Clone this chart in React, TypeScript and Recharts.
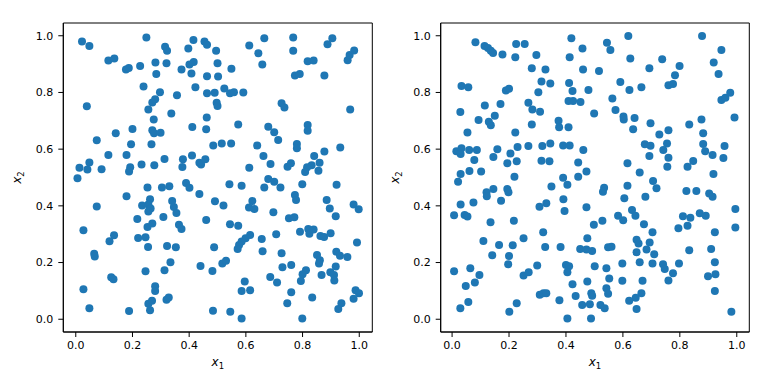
import { ScatterChart, Scatter, XAxis, YAxis, ReferenceArea } from 'recharts';

// x1, x2 samples, left panel
const leftPoints: [number, number][] = [
  [0.022, 0.980], [0.048, 0.964], [0.249, 0.994], [0.315, 0.961], [0.322, 0.947], [0.397, 0.955], [0.415, 0.985], [0.454, 0.980], [0.463, 0.968], [0.495, 0.947],
  [0.115, 0.913], [0.136, 0.920], [0.177, 0.881], [0.187, 0.886], [0.227, 0.893], [0.281, 0.906], [0.320, 0.903], [0.284, 0.865], [0.373, 0.881], [0.401, 0.899],
  [0.416, 0.907], [0.408, 0.867], [0.463, 0.857], [0.500, 0.903], [0.502, 0.856], [0.239, 0.821], [0.297, 0.801], [0.357, 0.790], [0.422, 0.818], [0.463, 0.797],
  [0.490, 0.799], [0.497, 0.764], [0.500, 0.752], [0.039, 0.751], [0.280, 0.776], [0.270, 0.765], [0.256, 0.740], [0.337, 0.726], [0.462, 0.712], [0.275, 0.705],
  [0.200, 0.671], [0.141, 0.656], [0.270, 0.667], [0.276, 0.656], [0.299, 0.658], [0.411, 0.678], [0.460, 0.670], [0.074, 0.631], [0.195, 0.617], [0.267, 0.617],
  [0.485, 0.613], [0.115, 0.579], [0.179, 0.579], [0.048, 0.553], [0.013, 0.534], [0.041, 0.528], [0.091, 0.529], [0.192, 0.536], [0.188, 0.521], [0.232, 0.546],
  [0.277, 0.543], [0.313, 0.565], [0.378, 0.564], [0.376, 0.537], [0.410, 0.578], [0.436, 0.552], [0.442, 0.546], [0.457, 0.564],
  [0.549, 0.884], [0.612, 0.966], [0.665, 0.991], [0.644, 0.938], [0.658, 0.899], [0.767, 0.994], [0.767, 0.947], [0.888, 0.970], [0.905, 0.991], [0.959, 0.914],
  [0.966, 0.932], [0.982, 0.948], [0.818, 0.910], [0.839, 0.913], [0.773, 0.860], [0.790, 0.865], [0.877, 0.860], [0.524, 0.814], [0.544, 0.797], [0.558, 0.801],
  [0.591, 0.800], [0.726, 0.762], [0.736, 0.747], [0.968, 0.740], [0.573, 0.687], [0.679, 0.679], [0.700, 0.660], [0.714, 0.632], [0.818, 0.685], [0.818, 0.665],
  [0.780, 0.618], [0.780, 0.603], [0.640, 0.613], [0.933, 0.606], [0.877, 0.592], [0.515, 0.620], [0.548, 0.620], [0.662, 0.576], [0.687, 0.548], [0.612, 0.534],
  [0.747, 0.538], [0.759, 0.550], [0.841, 0.576], [0.860, 0.552], [0.832, 0.543], [0.816, 0.536], [0.809, 0.519], [0.856, 0.524],
  [0.006, 0.497], [0.253, 0.465], [0.304, 0.465], [0.330, 0.469], [0.389, 0.481], [0.401, 0.464], [0.436, 0.442], [0.491, 0.416], [0.179, 0.434], [0.074, 0.398],
  [0.234, 0.401], [0.262, 0.423], [0.256, 0.405], [0.264, 0.391], [0.256, 0.380], [0.340, 0.417], [0.346, 0.396], [0.355, 0.375], [0.309, 0.361], [0.217, 0.354],
  [0.460, 0.350], [0.027, 0.314], [0.253, 0.325], [0.270, 0.338], [0.364, 0.333], [0.373, 0.318], [0.135, 0.296], [0.119, 0.275], [0.220, 0.287], [0.246, 0.289],
  [0.065, 0.231], [0.067, 0.221], [0.255, 0.255], [0.322, 0.258], [0.353, 0.254], [0.488, 0.254], [0.334, 0.201], [0.313, 0.173], [0.246, 0.169], [0.440, 0.188],
  [0.482, 0.170], [0.125, 0.148], [0.133, 0.141], [0.280, 0.116], [0.280, 0.100], [0.027, 0.106], [0.320, 0.069], [0.328, 0.077], [0.256, 0.055], [0.269, 0.065],
  [0.262, 0.032], [0.048, 0.039], [0.188, 0.029], [0.484, 0.030],
  [0.542, 0.476], [0.585, 0.471], [0.665, 0.465], [0.679, 0.495], [0.700, 0.485], [0.722, 0.465], [0.799, 0.476], [0.920, 0.474], [0.521, 0.401], [0.623, 0.417],
  [0.611, 0.394], [0.630, 0.389], [0.697, 0.377], [0.773, 0.438], [0.777, 0.421], [0.752, 0.356], [0.771, 0.360], [0.885, 0.421], [0.896, 0.391], [0.917, 0.363],
  [0.980, 0.405], [0.998, 0.388], [0.544, 0.335], [0.573, 0.330], [0.791, 0.309], [0.820, 0.318], [0.824, 0.302], [0.839, 0.317], [0.863, 0.294], [0.876, 0.290],
  [0.899, 0.303], [0.707, 0.300], [0.656, 0.283], [0.615, 0.297], [0.599, 0.286], [0.585, 0.274], [0.576, 0.262], [0.571, 0.248], [0.659, 0.240], [0.726, 0.233],
  [0.992, 0.271], [0.851, 0.227], [0.861, 0.208], [0.858, 0.197], [0.919, 0.238], [0.932, 0.224], [0.958, 0.220], [0.517, 0.197], [0.530, 0.206], [0.760, 0.191],
  [0.729, 0.183], [0.812, 0.173], [0.800, 0.159], [0.794, 0.135], [0.867, 0.156], [0.898, 0.166], [0.911, 0.156], [0.917, 0.186], [0.912, 0.137], [0.686, 0.149],
  [0.710, 0.130], [0.596, 0.133], [0.585, 0.100], [0.615, 0.102], [0.760, 0.095], [0.746, 0.056], [0.834, 0.077], [0.987, 0.102], [0.999, 0.092], [0.980, 0.072],
  [0.937, 0.056], [0.926, 0.036], [0.545, 0.026], [0.585, 0.003], [0.799, 0.003],
];

// right panel
const rightPoints: [number, number][] = [
  [0.082, 0.977], [0.114, 0.964], [0.126, 0.957], [0.136, 0.947], [0.144, 0.939], [0.177, 0.934], [0.225, 0.971], [0.255, 0.971], [0.222, 0.924], [0.296, 0.932],
  [0.419, 0.991], [0.458, 0.955], [0.413, 0.924], [0.460, 0.881], [0.280, 0.885], [0.328, 0.881], [0.314, 0.839], [0.345, 0.832], [0.303, 0.801], [0.411, 0.833],
  [0.423, 0.805], [0.479, 0.809], [0.033, 0.823], [0.057, 0.818], [0.189, 0.807], [0.200, 0.813], [0.115, 0.754], [0.170, 0.759], [0.268, 0.764], [0.282, 0.740],
  [0.309, 0.732], [0.409, 0.770], [0.425, 0.770], [0.451, 0.766], [0.499, 0.726], [0.029, 0.731], [0.093, 0.703], [0.129, 0.697], [0.136, 0.684], [0.150, 0.718],
  [0.054, 0.659], [0.222, 0.659], [0.280, 0.687], [0.374, 0.700], [0.376, 0.677], [0.409, 0.677], [0.015, 0.593], [0.033, 0.603], [0.030, 0.583], [0.060, 0.597],
  [0.087, 0.597], [0.078, 0.562], [0.159, 0.600], [0.145, 0.572], [0.205, 0.585], [0.230, 0.608], [0.268, 0.611], [0.317, 0.611], [0.345, 0.620], [0.390, 0.613],
  [0.413, 0.613], [0.461, 0.597], [0.194, 0.550], [0.227, 0.557], [0.314, 0.559], [0.342, 0.557], [0.443, 0.553], [0.061, 0.523], [0.102, 0.521], [0.030, 0.512],
  [0.472, 0.521],
  [0.619, 0.999], [0.544, 0.975], [0.556, 0.950], [0.626, 0.920], [0.738, 0.917], [0.878, 0.999], [0.946, 0.950], [0.919, 0.906], [0.936, 0.865], [0.516, 0.876],
  [0.693, 0.885], [0.799, 0.893], [0.783, 0.861], [0.760, 0.825], [0.776, 0.830], [0.591, 0.837], [0.623, 0.809], [0.665, 0.818], [0.563, 0.779], [0.574, 0.738],
  [0.602, 0.715], [0.603, 0.705], [0.641, 0.710], [0.636, 0.670], [0.697, 0.691], [0.760, 0.667], [0.728, 0.652], [0.833, 0.687], [0.876, 0.705], [0.882, 0.656],
  [0.946, 0.773], [0.960, 0.781], [0.977, 0.799], [0.992, 0.712], [0.677, 0.617], [0.697, 0.612], [0.755, 0.620], [0.742, 0.597], [0.760, 0.570], [0.693, 0.576],
  [0.882, 0.618], [0.889, 0.593], [0.915, 0.579], [0.957, 0.611], [0.953, 0.569], [0.616, 0.550], [0.659, 0.518], [0.756, 0.538], [0.827, 0.538], [0.847, 0.558],
  [0.918, 0.512],
  [0.021, 0.485], [0.219, 0.503], [0.390, 0.499], [0.443, 0.503], [0.349, 0.468], [0.405, 0.474], [0.121, 0.448], [0.122, 0.434], [0.145, 0.459], [0.194, 0.459],
  [0.198, 0.448], [0.172, 0.418], [0.075, 0.412], [0.030, 0.405], [0.007, 0.367], [0.044, 0.368], [0.054, 0.362], [0.135, 0.342], [0.217, 0.347], [0.307, 0.397],
  [0.331, 0.409], [0.391, 0.423], [0.395, 0.382], [0.472, 0.395], [0.498, 0.333], [0.475, 0.286], [0.450, 0.248], [0.472, 0.246], [0.492, 0.241], [0.320, 0.307],
  [0.251, 0.286], [0.110, 0.276], [0.165, 0.262], [0.213, 0.261], [0.327, 0.255], [0.381, 0.255], [0.141, 0.226], [0.200, 0.223], [0.197, 0.194], [0.007, 0.169],
  [0.064, 0.180], [0.096, 0.156], [0.080, 0.130], [0.048, 0.117], [0.299, 0.190], [0.400, 0.191], [0.411, 0.187], [0.405, 0.166], [0.501, 0.187], [0.251, 0.154],
  [0.269, 0.166], [0.423, 0.123], [0.475, 0.133], [0.308, 0.086], [0.321, 0.092], [0.331, 0.092], [0.377, 0.067], [0.434, 0.082], [0.457, 0.050], [0.489, 0.092],
  [0.492, 0.083], [0.484, 0.053], [0.227, 0.056], [0.201, 0.026], [0.057, 0.061], [0.029, 0.039], [0.405, 0.003], [0.488, 0.003],
  [0.706, 0.488], [0.718, 0.462], [0.616, 0.471], [0.534, 0.464], [0.530, 0.450], [0.605, 0.427], [0.679, 0.432], [0.823, 0.452], [0.858, 0.452], [0.903, 0.444],
  [0.915, 0.432], [0.995, 0.389], [0.995, 0.324], [0.528, 0.347], [0.583, 0.365], [0.601, 0.349], [0.632, 0.385], [0.644, 0.365], [0.674, 0.335], [0.704, 0.307],
  [0.795, 0.321], [0.811, 0.363], [0.837, 0.358], [0.827, 0.330], [0.870, 0.374], [0.891, 0.365], [0.923, 0.307], [0.648, 0.280], [0.655, 0.267], [0.694, 0.271],
  [0.683, 0.246], [0.648, 0.236], [0.710, 0.229], [0.548, 0.254], [0.560, 0.256], [0.833, 0.243], [0.910, 0.248], [0.923, 0.201], [0.659, 0.201], [0.704, 0.197],
  [0.741, 0.194], [0.747, 0.177], [0.776, 0.162], [0.760, 0.137], [0.797, 0.197], [0.598, 0.197], [0.542, 0.180], [0.552, 0.144], [0.598, 0.136], [0.669, 0.136],
  [0.899, 0.152], [0.925, 0.159], [0.923, 0.100], [0.542, 0.109], [0.548, 0.090], [0.665, 0.092], [0.645, 0.076], [0.622, 0.065], [0.648, 0.036], [0.521, 0.050],
  [0.536, 0.039], [0.981, 0.026],
];

const ticks = [0, 0.2, 0.4, 0.6, 0.8, 1.0];

const FONT = 'DejaVu Sans';
const BLUE = '#1f77b4';
const Y_DOMAIN: [number, number] = [-0.045, 1.045];

const dot = (p: any) => <circle cx={p.cx} cy={p.cy} r={4} fill={BLUE} />;

function XTitle({ viewBox }: any) {
  const { x, y, width } = viewBox;
  return (
    <text x={x + width / 2} y={y + 34} textAnchor="middle" fontFamily={FONT} fontSize={12} fill="#000">
      <tspan fontStyle="italic">x</tspan>
      <tspan fontSize={8.5} dy={3}>1</tspan>
    </text>
  );
}

function YTitle({ viewBox }: any) {
  const { x, y, width, height } = viewBox;
  const cx = x + width - 42;
  const cy = y + height / 2;
  return (
    <text x={cx} y={cy} textAnchor="middle" transform={`rotate(-90, ${cx}, ${cy})`} fontFamily={FONT} fontSize={12} fill="#000">
      <tspan fontStyle="italic">x</tspan>
      <tspan fontSize={8.5} dy={3}>2</tspan>
    </text>
  );
}

function Panel({ points, left, xDomain, ml, mr }: { points: [number, number][]; left: number; xDomain: [number, number]; ml: number; mr: number }) {
  const data = points.map(([x, y]) => ({ x, y }));
  const tickStyle = { fill: '#000', fontSize: 11, fontFamily: FONT };
  return (
    <div style={{ position: 'absolute', left, top: 0 }}>
      <ScatterChart width={384} height={384} margin={{ top: 23, right: mr, bottom: 22, left: ml }}>
        <XAxis type="number" dataKey="x" domain={xDomain} ticks={ticks} allowDataOverflow height={30}
          tickFormatter={(v: number) => v.toFixed(1)} tick={tickStyle} tickSize={5} tickMargin={4}
          axisLine={{ stroke: '#000' }} tickLine={{ stroke: '#000' }} label={<XTitle />} />
        <YAxis type="number" dataKey="y" domain={Y_DOMAIN} ticks={ticks} allowDataOverflow width={50}
          tickFormatter={(v: number) => v.toFixed(1)} tick={tickStyle} tickSize={5} tickMargin={5}
          axisLine={{ stroke: '#000' }} tickLine={{ stroke: '#000' }} label={<YTitle />} />
        <ReferenceArea x1={xDomain[0]} x2={xDomain[1]} y1={Y_DOMAIN[0]} y2={Y_DOMAIN[1]} fill="none" stroke="#000" strokeOpacity={1} />
        <Scatter data={data} shape={dot} isAnimationActive={false} />
      </ScatterChart>
    </div>
  );
}

export default function App() {
  return (
    <div style={{ position: 'absolute', left: 0, top: 0, width: 768, height: 384, background: '#fff' }}>
      <Panel points={leftPoints} left={0} xDomain={[-0.044, 1.046]} ml={13.3} mr={11.7} />
      <Panel points={rightPoints} left={384} xDomain={[-0.040, 1.044]} ml={6.7} mr={18.7} />
    </div>
  );
}
